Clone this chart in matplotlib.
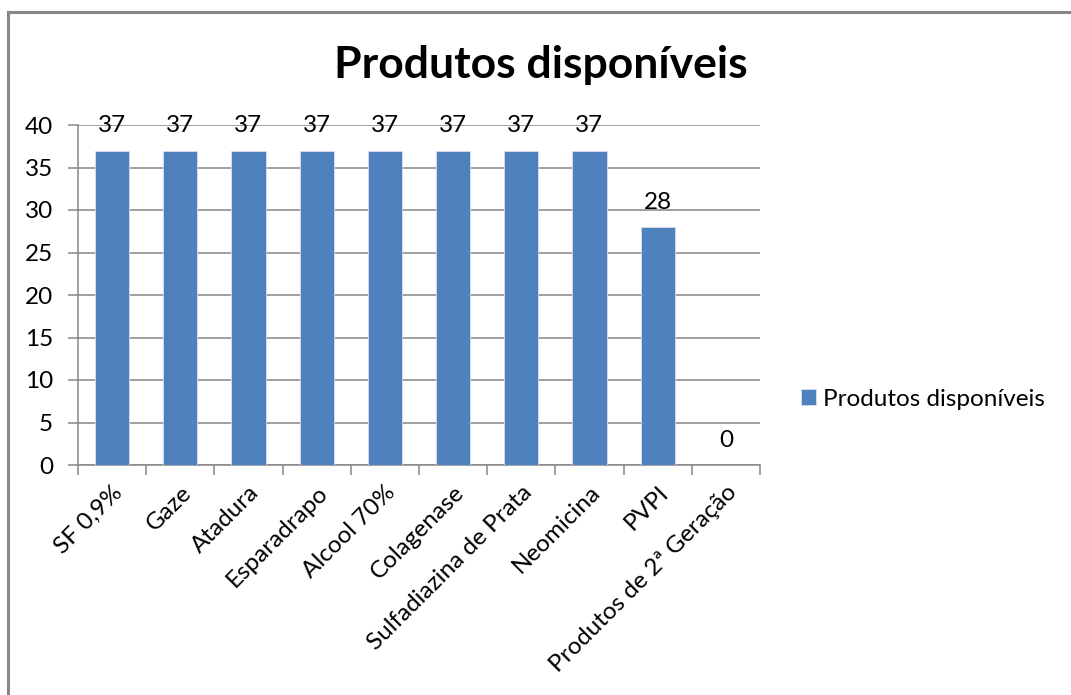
import matplotlib
matplotlib.use("Agg")
import matplotlib.pyplot as plt
from matplotlib.lines import Line2D

categories = ["SF 0,9%", "Gaze", "Atadura", "Esparadrapo", "Alcool 70%",
              "Colagenase", "Sulfadiazina de Prata", "Neomicina", "PVPI",
              "Produtos de 2ª Geração"]
values = [37, 37, 37, 37, 37, 37, 37, 37, 28, 0]
series_name = "Produtos disponíveis"
title = "Produtos disponíveis"
y_ticks = [0, 5, 10, 15, 20, 25, 30, 35, 40]

plt.rcParams["font.family"] = ["Lato", "DejaVu Sans"]
FS = 17.5

W, H = 1071, 695
fig = plt.figure(figsize=(W / 100, H / 100), dpi=100)

# chart-area frame (left and top edges)
fig.add_artist(Line2D([8 / W, 8 / W], [0, 1 - 12 / H], color="#868686", lw=2.2,
                      transform=fig.transFigure))
fig.add_artist(Line2D([8 / W, 1], [1 - 12 / H, 1 - 12 / H], color="#868686", lw=2.2,
                      transform=fig.transFigure))

ax = fig.add_axes([78 / W, 1 - 465 / H, (760 - 78) / W, (465 - 125) / H])

bar_color = "#4F81BD"
grid_color = "#868686"
x = list(range(len(categories)))
bars = ax.bar(x, values, width=0.5, color=bar_color, edgecolor="#D6E0EE",
              linewidth=0.6, zorder=3, label=series_name)

ax.set_xlim(-0.5, len(categories) - 0.5)
ax.set_ylim(0, 40)
ax.set_yticks(y_ticks)
ax.set_yticklabels([str(t) for t in y_ticks], fontsize=FS)
ax.yaxis.grid(True, color=grid_color, lw=1.1, zorder=0)
ax.tick_params(axis="y", length=7, width=1.1, color=grid_color, pad=11)

# category labels centred on bars, tick marks on category boundaries
ax.set_xticks(x)
ax.set_xticklabels(categories, rotation=45, ha="right", rotation_mode="anchor",
                   fontsize=FS)
ax.tick_params(axis="x", length=0, pad=12)
ax.set_xticks([i - 0.5 for i in range(len(categories) + 1)], minor=True)
ax.tick_params(axis="x", which="minor", length=7, width=1.1, color=grid_color)

for side in ["top", "right"]:
    ax.spines[side].set_visible(False)
for side in ["left", "bottom"]:
    ax.spines[side].set_color(grid_color)
    ax.spines[side].set_linewidth(1.1)

for xi, v in zip(x, values):
    ax.annotate(str(v), (xi, v), xytext=(0, 13), textcoords="offset points",
                ha="center", va="baseline", fontsize=FS, zorder=4,
                annotation_clip=False)

fig.text(541 / W, 1 - 65 / H, title, ha="center", va="center",
         fontsize=32, fontweight="bold")

ax.legend(loc="center left", bbox_to_anchor=(801 / W, 1 - 399 / H),
          bbox_transform=fig.transFigure, frameon=False, fontsize=FS,
          handlelength=0.62, handleheight=0.62, handletextpad=0.3,
          borderaxespad=0, borderpad=0)

fig.savefig("out.png", dpi=100)
